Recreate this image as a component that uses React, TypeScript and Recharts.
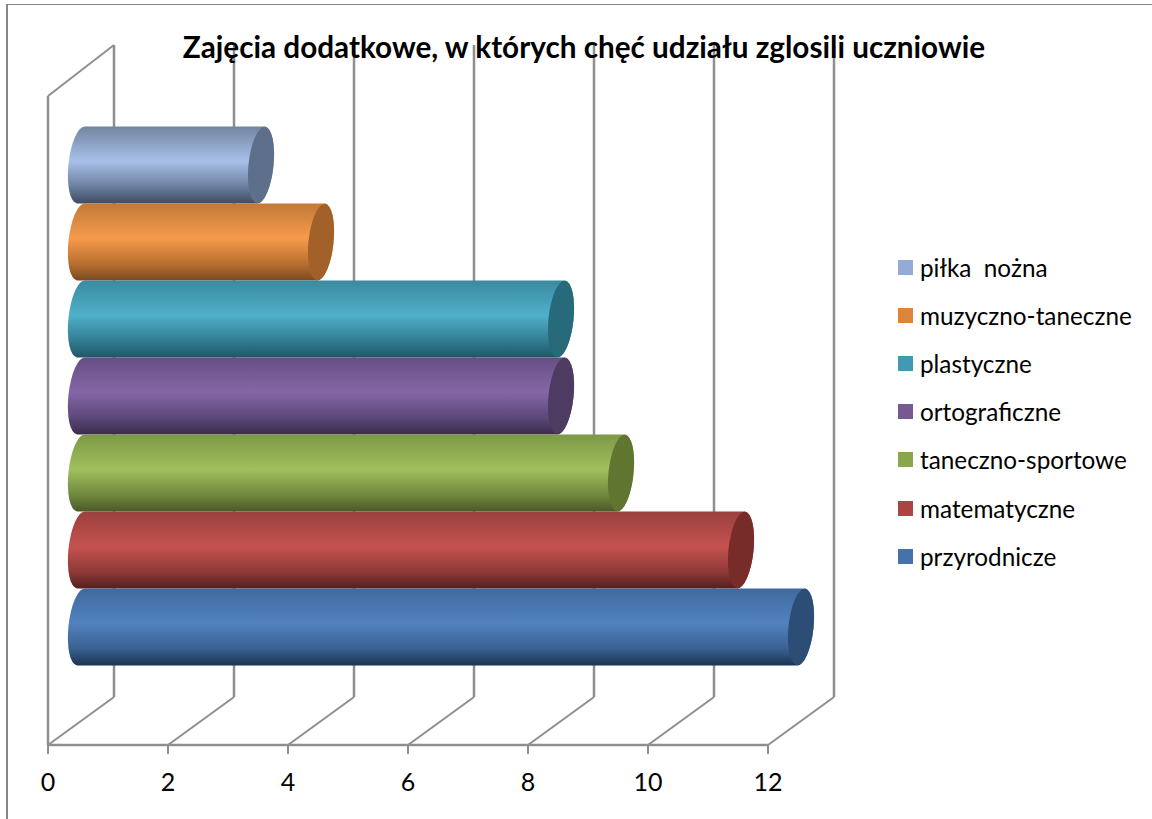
import React from 'react';
import { BarChart, Bar, XAxis, YAxis, CartesianGrid, Legend } from 'recharts';

const seriesNames = ['piłka  nożna', 'muzyczno-taneczne', 'plastyczne', 'ortograficzne', 'taneczno-sportowe', 'matematyczne', 'przyrodnicze'];
const seriesValues = [3, 4, 8, 8, 9, 11, 12];
const tickValues = [0, 2, 4, 6, 8, 10, 12];
const swatchColors = ['#95abd4', '#dd843c', '#3f9ab2', '#75598f', '#8aa64d', '#ab4442', '#4672a8'];
const topColors = ['#72859f', '#c27a38', '#3a8aa0', '#664f85', '#7d9847', '#9b403e', '#3f6a9e'];
const lightColors = ['#a8c1ea', '#f79a4c', '#4fb0ca', '#8566a7', '#a0c05c', '#c4524f', '#5282bf'];
const edgeColors = ['#6b7f9f', '#b8702f', '#337d92', '#5d4879', '#71893f', '#8f3a38', '#3a6192'];
const darkColors = ['#3f4b60', '#7a4a20', '#1f5666', '#3a2c4c', '#4a5a28', '#561f1e', '#1d3350'];
const capColors = ['#5e6f8c', '#a3612a', '#276a7c', '#4d3b62', '#5f7530', '#772c2a', '#2c4d75'];

const row: Record<string, string | number> = { name: 'zajecia' };
seriesNames.forEach((n, i) => {
  row[n] = seriesValues[i];
});
const data = [row];

const GRID = '#8f8f8f';
const DEPTH_X = 66;
const DEPTH_Y = 48;
const FONT = 'Lato, sans-serif';

// cylinder sits halfway into the 3D depth
const makeCylinder = (i: number) => (props: any) => {
  const { x, y, width, height } = props;
  const left = x + 33;
  const right = left + width;
  const top = y - 25;
  const bottom = top + height;
  const rx = 12.5;
  const ry = height / 2;
  const lean = 4;
  const body = `M ${left + lean} ${top} A ${rx} ${ry} 6 0 0 ${left - lean} ${bottom} L ${right - lean} ${bottom} A ${rx} ${ry} 6 0 0 ${right + lean} ${top} Z`;
  return (
    <g>
      <path d={body} fill={`url(#cyl${i})`} />
      <ellipse cx={right} cy={(top + bottom) / 2} rx={rx} ry={ry} fill={capColors[i]} transform={`rotate(6 ${right} ${(top + bottom) / 2})`} />
    </g>
  );
};

const wallLine = (props: any) => {
  const { x1, y1, y2, key, index } = props;
  const bx = x1 + DEPTH_X;
  const by = y2 - DEPTH_Y;
  const topY = y1 - 51;
  return (
    <g key={key ?? index}>
      <polyline points={`${x1},${y2} ${bx},${by}`} fill="none" stroke={GRID} strokeWidth={2} />
      <polyline points={`${bx},${by} ${bx},${topY}`} fill="none" stroke={GRID} strokeWidth={2.5} />
      {x1 < 60 && (
        <>
          <polyline points={`${x1},${y2} ${x1},${y1}`} fill="none" stroke={GRID} strokeWidth={2.5} />
          <polyline points={`${x1},${y1} ${bx},${topY}`} fill="none" stroke={GRID} strokeWidth={2} />
        </>
      )}
    </g>
  );
};

const LegendList = ({ payload }: any) => (
  <div>
    {(payload || []).map((p: any) => (
      <div key={p.value} style={{ display: 'flex', alignItems: 'center', height: 48.2 }}>
        <span style={{ width: 15, height: 15, background: p.color, marginRight: 7, flex: 'none' }} />
        <span style={{ fontFamily: FONT, fontSize: 24.3, color: '#000', whiteSpace: 'pre' }}>{p.value}</span>
      </div>
    ))}
  </div>
);

export default function App() {
  return (
    <div style={{ position: 'absolute', left: 0, top: 0, width: 1152, height: 819, background: '#fff', overflow: 'hidden' }}>
      <div style={{ position: 'absolute', left: 6, top: 4, width: 1300, height: 1000, borderLeft: '2px solid #868686', borderTop: '1px solid #868686' }} />
      <div style={{ position: 'absolute', left: 0, top: 0 }}>
        <BarChart
          width={1152}
          height={819}
          data={data}
          layout="vertical"
          margin={{ top: 96, right: 134, bottom: 24, left: 48 }}
          barCategoryGap={55.5}
          barGap={0}
        >
          <defs>
            {seriesNames.map((n, i) => (
              <linearGradient key={n} id={`cyl${i}`} x1="0" y1="0" x2="0" y2="1">
                <stop offset="0%" stopColor={topColors[i]} />
                <stop offset="45%" stopColor={lightColors[i]} />
                <stop offset="78%" stopColor={edgeColors[i]} />
                <stop offset="100%" stopColor={darkColors[i]} />
              </linearGradient>
            ))}
          </defs>
          <CartesianGrid horizontal={false} vertical={wallLine} />
          <XAxis
            type="number"
            domain={[0, 12]}
            ticks={tickValues}
            height={50}
            tickSize={9}
            tickMargin={19}
            axisLine={{ stroke: GRID, strokeWidth: 2.5 }}
            tickLine={{ stroke: GRID, strokeWidth: 2 }}
            tick={{ fill: '#000', fontFamily: FONT, fontSize: 25 }}
          />
          <YAxis type="category" dataKey="name" hide />
          {seriesNames.map((n, i) => (
            <Bar key={n} dataKey={n} fill={swatchColors[i]} isAnimationActive={false} shape={makeCylinder(i)} />
          ))}
          <Legend
            layout="vertical"
            align="right"
            verticalAlign="top"
            itemSorter={null}
            content={<LegendList />}
            wrapperStyle={{ position: 'absolute', left: 898, top: 243, width: 250, right: 'auto', bottom: 'auto' }}
          />
        </BarChart>
      </div>
      <div style={{ position: 'absolute', left: 0, top: 29, width: 1168, textAlign: 'center', fontFamily: FONT, fontWeight: 700, fontSize: 29.7, lineHeight: '36px', color: '#000', whiteSpace: 'pre' }}>
        Zajęcia dodatkowe, w których chęć udziału zglosili uczniowie
      </div>
    </div>
  );
}
